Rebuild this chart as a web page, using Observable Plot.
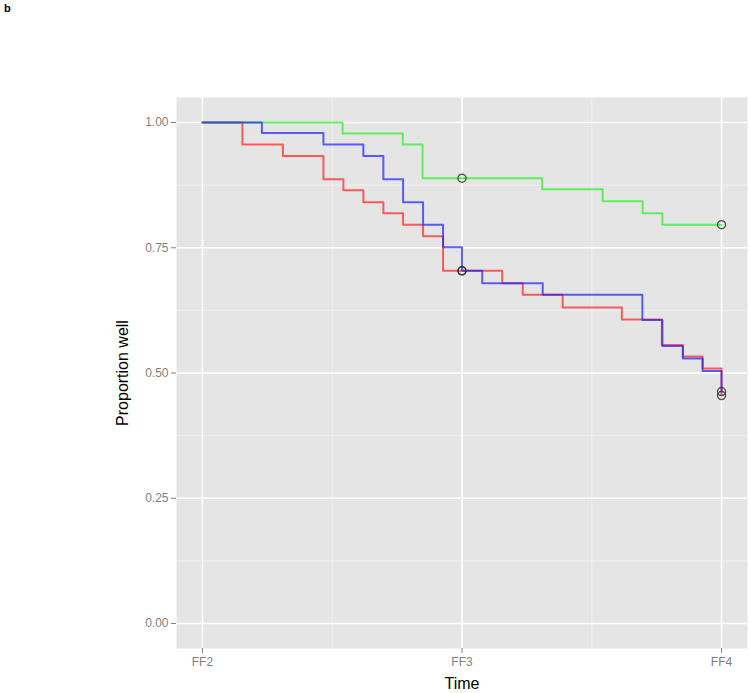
<!DOCTYPE html>
<html>
<head>
<meta charset="utf-8">
<script src="https://cdn.jsdelivr.net/npm/d3@7"></script>
<script src="https://cdn.jsdelivr.net/npm/@observablehq/plot@0.6"></script>
<style>
  html, body { margin: 0; padding: 0; background: #fff; }
  #wrap { position: relative; width: 750px; height: 693px; }
  #tag { position: absolute; left: 4px; top: 2px; font: bold 11px "Liberation Sans", Arial, sans-serif; color: #000; }
</style>
</head>
<body>
<div id="wrap"><div id="tag">b</div></div>
<script>
// Survival-type step curves (time in follow-up units: 2 = FF2, 3 = FF3, 4 = FF4)
const redTimes   = [2, 2.154, 2.310, 2.466, 2.543, 2.620, 2.697, 2.773, 2.850, 2.927, 3.155, 3.234, 3.388, 3.616, 3.770, 3.851, 3.927, 4];
const redValues  = [1, 0.956, 0.933, 0.887, 0.865, 0.841, 0.819, 0.796, 0.773, 0.704, 0.679, 0.656, 0.631, 0.607, 0.556, 0.533, 0.509, 0.455];

const greenTimes  = [2, 2.540, 2.772, 2.848, 3.309, 3.542, 3.696, 3.772, 4];
const greenValues = [1, 0.978, 0.956, 0.889, 0.867, 0.843, 0.819, 0.796, 0.796];

const blueTimes  = [2, 2.229, 2.466, 2.620, 2.697, 2.773, 2.850, 2.927, 3, 3.078, 3.311, 3.695, 3.772, 3.851, 3.927, 4];
const blueValues = [1, 0.979, 0.956, 0.933, 0.887, 0.841, 0.796, 0.751, 0.704, 0.679, 0.656, 0.606, 0.554, 0.529, 0.504, 0.463];

// Censoring / assessment markers
const markerSeries = ["green", "green", "red", "red", "blue", "blue"];
const markerTimes  = [3, 4, 3, 4, 3, 4];
const markerValues = [0.889, 0.796, 0.704, 0.455, 0.704, 0.463];

const xTicks = [2, 3, 4];
const xTickLabels = ["FF2", "FF3", "FF4"];
const yTicks = [0, 0.25, 0.5, 0.75, 1];
const xMinor = [2.5, 3.5];
const yMinor = [0.125, 0.375, 0.625, 0.875];

const seriesColors = { red: "#ff2020", green: "#30f030", blue: "#2020ff" };

const toRows = (name, ts, vs) => ts.map((t, i) => ({ series: name, time: t, value: vs[i] }));
const redRows = toRows("red", redTimes, redValues);
const greenRows = toRows("green", greenTimes, greenValues);
const blueRows = toRows("blue", blueTimes, blueValues);
const markers = markerTimes.map((t, i) => ({ series: markerSeries[i], time: t, value: markerValues[i] }));

const font = "'Liberation Sans', Arial, sans-serif";

const chart = Plot.plot({
  width: 750,
  height: 693,
  marginLeft: 176,
  marginRight: 3,
  marginTop: 97,
  marginBottom: 45,
  style: { fontFamily: font, background: "#fff" },
  x: { domain: [1.9, 4.1] },
  y: { domain: [-0.05, 1.05] },
  marks: [
    Plot.frame({ fill: "#e5e5e5", stroke: null }),
    Plot.ruleY(yMinor, { stroke: "#f2f2f2", strokeWidth: 0.8 }),
    Plot.ruleX(xMinor, { stroke: "#f2f2f2", strokeWidth: 0.8 }),
    Plot.ruleY(yTicks, { stroke: "#ffffff", strokeWidth: 1.6 }),
    Plot.ruleX(xTicks, { stroke: "#ffffff", strokeWidth: 1.6 }),
    Plot.axisX(xTicks, {
      tickFormat: (d) => xTickLabels[xTicks.indexOf(d)],
      tickSize: 5, tickPadding: 4, stroke: "#7f7f7f", fill: "#7f7f7f", fontSize: 12,
      label: "Time", labelAnchor: "center", labelArrow: "none", labelOffset: 40
    }),
    Plot.axisY(yTicks, {
      tickFormat: d3.format(".2f"),
      tickSize: 5, tickPadding: 3, stroke: "#7f7f7f", fill: "#7f7f7f", fontSize: 12,
      label: "Proportion well", labelAnchor: "center", labelArrow: "none", labelOffset: 60
    }),
    Plot.line(redRows, { x: "time", y: "value", curve: "step-after", stroke: seriesColors.red, strokeOpacity: 0.7, strokeWidth: 2 }),
    Plot.line(greenRows, { x: "time", y: "value", curve: "step-after", stroke: seriesColors.green, strokeOpacity: 0.75, strokeWidth: 2 }),
    Plot.line(blueRows, { x: "time", y: "value", curve: "step-after", stroke: seriesColors.blue, strokeOpacity: 0.7, strokeWidth: 2 }),
    Plot.dot(markers, { x: "time", y: "value", r: 4, stroke: "#333", strokeOpacity: 0.8, strokeWidth: 1.5, fill: "none" })
  ]
});

// axis title styling (black, larger)
chart.querySelectorAll("g[aria-label='x-axis label'], g[aria-label='y-axis label']").forEach((g) => {
  g.setAttribute("fill", "#000");
  g.setAttribute("font-size", "16");
  g.querySelectorAll("text").forEach((t) => { t.setAttribute("fill", "#000"); t.style.fontSize = "16px"; });
});

document.getElementById("wrap").appendChild(chart);
</script>
</body>
</html>
